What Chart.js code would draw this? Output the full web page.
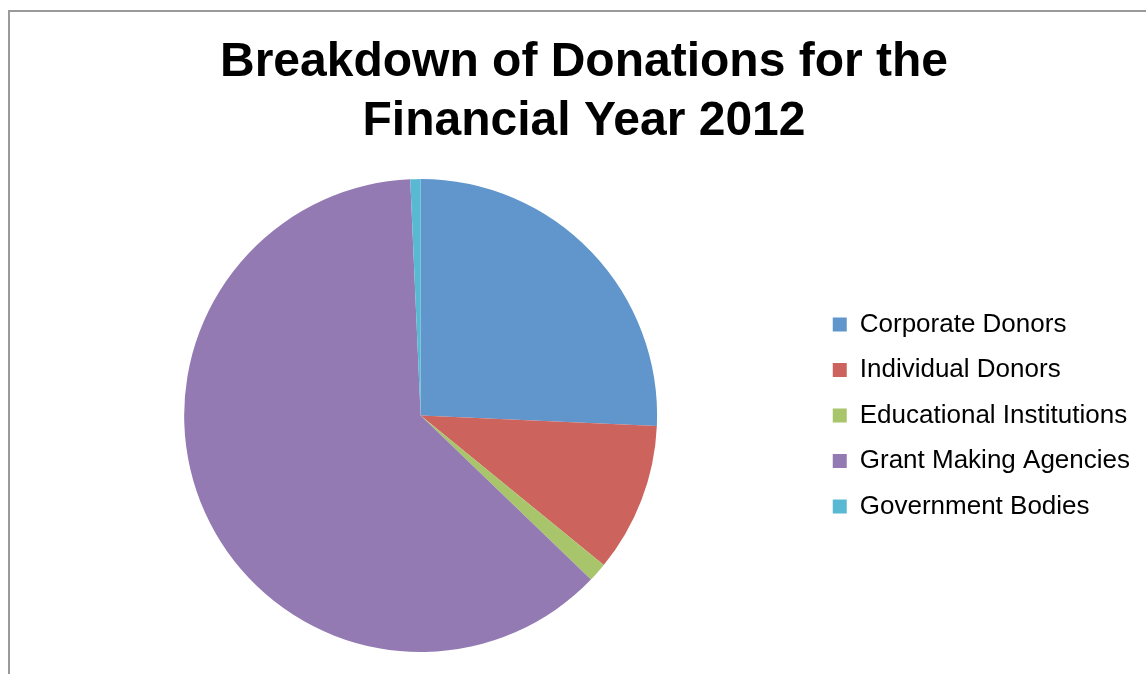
<!DOCTYPE html>
<html>
<head>
<meta charset="utf-8">
<script src="https://cdn.jsdelivr.net/npm/chart.js@4.4.1/dist/chart.umd.min.js"></script>
<style>
  html, body { margin: 0; padding: 0; background: #ffffff; }
  #wrap { position: relative; width: 1146px; height: 674px; overflow: hidden; }
  #frame { position: absolute; left: 8px; top: 10px; width: 1200px; height: 720px;
           border: 2px solid #9a9a9a; box-sizing: border-box; }
  #chart { position: absolute; left: 0; top: 0; }
</style>
</head>
<body>
<div id="wrap">
  <div id="frame"></div>
  <canvas id="chart" width="1146" height="674"></canvas>
</div>
<script>
// Share of donations by source, in percent
const categories = [
  'Corporate Donors',
  'Individual Donors',
  'Educational Institutions',
  'Grant Making Agencies',
  'Government Bodies'
];
const shares = [25.7, 10.2, 1.3, 62.1, 0.7];
const sliceColors = ['#6096CB', '#CC645D', '#A8C56B', '#937AB2', '#5AB9D2'];
const titleLines = ['Breakdown of Donations for the', 'Financial Year 2012'];

new Chart(document.getElementById('chart'), {
  type: 'pie',
  data: {
    labels: categories,
    datasets: [{
      data: shares,
      backgroundColor: sliceColors,
      borderWidth: 0
    }]
  },
  options: {
    responsive: false,
    animation: false,
    layout: { padding: { left: 28, right: 6, top: 3, bottom: 22 } },
    plugins: {
      title: {
        display: true,
        text: titleLines,
        color: '#000000',
        font: { family: '"Liberation Sans", Arial, sans-serif', size: 48, weight: 'bold', lineHeight: 1.23 },
        padding: { top: 30, bottom: 28 }
      },
      legend: {
        position: 'right',
        fullSize: false,
        labels: {
          color: '#000000',
          boxWidth: 14,
          boxHeight: 14,
          padding: 19.5,
          font: { family: '"Liberation Sans", Arial, sans-serif', size: 26 }
        }
      },
      tooltip: { enabled: false }
    }
  }
});
</script>
</body>
</html>
